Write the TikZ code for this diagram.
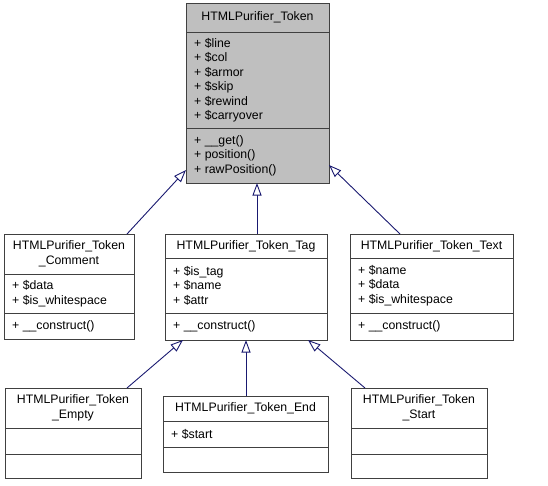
\documentclass[tikz,border=0pt]{standalone}
\usepackage{fontspec}
\setmainfont{Liberation Sans}
\usetikzlibrary{arrows.meta}
\definecolor{boxgray}{HTML}{404040}
\definecolor{tokgray}{HTML}{BFBFBF}
\definecolor{edgeblue}{HTML}{191970}
\tikzset{
  cls/.style={draw=boxgray, line width=1pt, fill=white, inner sep=0pt, outer sep=0pt, anchor=north west},
  sepline/.style={draw=boxgray, line width=1pt},
  mem/.style={anchor=west, align=left, inner sep=0pt},
  hdr/.style={anchor=center, align=center, inner sep=0pt},
  inh/.style={draw=edgeblue, line width=0.9pt, -{Triangle[open, length=12.5pt, width=9pt, fill=white]}}
}
\begin{document}
\begin{tikzpicture}[x=1pt, y=-1pt, font=\fontsize{12.3}{14.5}\selectfont]
\useasboundingbox (0,0) rectangle (548,485);
% Token
\node[cls, fill=tokgray, minimum width=143pt, minimum height=180pt] (token) at (186,3) {};
\draw[sepline] (token.west |- 0,32) -- (token.east |- 0,32);
\draw[sepline] (token.west |- 0,128) -- (token.east |- 0,128);
\node[hdr] (tokenh) at (257.5,17.5) {HTMLPurifier\_Token};
\node[mem] (tokena) at (194,80) {+ \$line\\+ \$col\\+ \$armor\\+ \$skip\\+ \$rewind\\+ \$carryover};
\node[mem] (tokenm) at (194,155.5) {+ \_\_get()\\+ position()\\+ rawPosition()};
% Comment
\node[cls, minimum width=130pt, minimum height=105pt] (comment) at (4,234) {};
\draw[sepline] (comment.west |- 0,274) -- (comment.east |- 0,274);
\draw[sepline] (comment.west |- 0,313) -- (comment.east |- 0,313);
\node[hdr] (commenth) at (69,254) {HTMLPurifier\_Token\\\_Comment};
\node[mem] (commenta) at (12,293.5) {+ \$data\\+ \$is\_whitespace};
\node[mem] (commentm) at (12,326) {+ \_\_construct()};
% Tag
\node[cls, minimum width=162pt, minimum height=106pt] (tag) at (165,234) {};
\draw[sepline] (tag.west |- 0,258) -- (tag.east |- 0,258);
\draw[sepline] (tag.west |- 0,313) -- (tag.east |- 0,313);
\node[hdr] (tagh) at (246,246) {HTMLPurifier\_Token\_Tag};
\node[mem] (taga) at (173,285.5) {+ \$is\_tag\\+ \$name\\+ \$attr};
\node[mem] (tagm) at (173,326.5) {+ \_\_construct()};
% Text
\node[cls, minimum width=163pt, minimum height=106pt] (text) at (350,234) {};
\draw[sepline] (text.west |- 0,258) -- (text.east |- 0,258);
\draw[sepline] (text.west |- 0,313) -- (text.east |- 0,313);
\node[hdr] (texth) at (431.5,246) {HTMLPurifier\_Token\_Text};
\node[mem] (texta) at (358,285.5) {+ \$name\\+ \$data\\+ \$is\_whitespace};
\node[mem] (textm) at (358,326.5) {+ \_\_construct()};
% Empty
\node[cls, minimum width=136pt, minimum height=90pt] (empty) at (5,388) {};
\draw[sepline] (empty.west |- 0,428) -- (empty.east |- 0,428);
\draw[sepline] (empty.west |- 0,454) -- (empty.east |- 0,454);
\node[hdr] (emptyh) at (73,408) {HTMLPurifier\_Token\\\_Empty};
% End
\node[cls, minimum width=165pt, minimum height=76pt] (endc) at (163,396) {};
\draw[sepline] (endc.west |- 0,421) -- (endc.east |- 0,421);
\draw[sepline] (endc.west |- 0,447) -- (endc.east |- 0,447);
\node[hdr] (endh) at (245.5,408.5) {HTMLPurifier\_Token\_End};
\node[mem] (enda) at (171,434) {+ \$start};
% Start
\node[cls, minimum width=136pt, minimum height=90pt] (start) at (351,388) {};
\draw[sepline] (start.west |- 0,428) -- (start.east |- 0,428);
\draw[sepline] (start.west |- 0,454) -- (start.east |- 0,454);
\node[hdr] (starth) at (419,408) {HTMLPurifier\_Token\\\_Start};
% inheritance
\draw[inh] (comment.north -| 127,0) -- (token.west |- 0,170);
\draw[inh] (tag.north -| 257,0) -- (token.south -| 257,0);
\draw[inh] (text.north -| 400,0) -- (token.east |- 0,165);
\draw[inh] (empty.north -| 127,0) -- (tag.south -| 183,0);
\draw[inh] (endc.north -| 246,0) -- (tag.south -| 246,0);
\draw[inh] (start.north -| 365,0) -- (tag.south -| 308,0);
\end{tikzpicture}
\end{document}
